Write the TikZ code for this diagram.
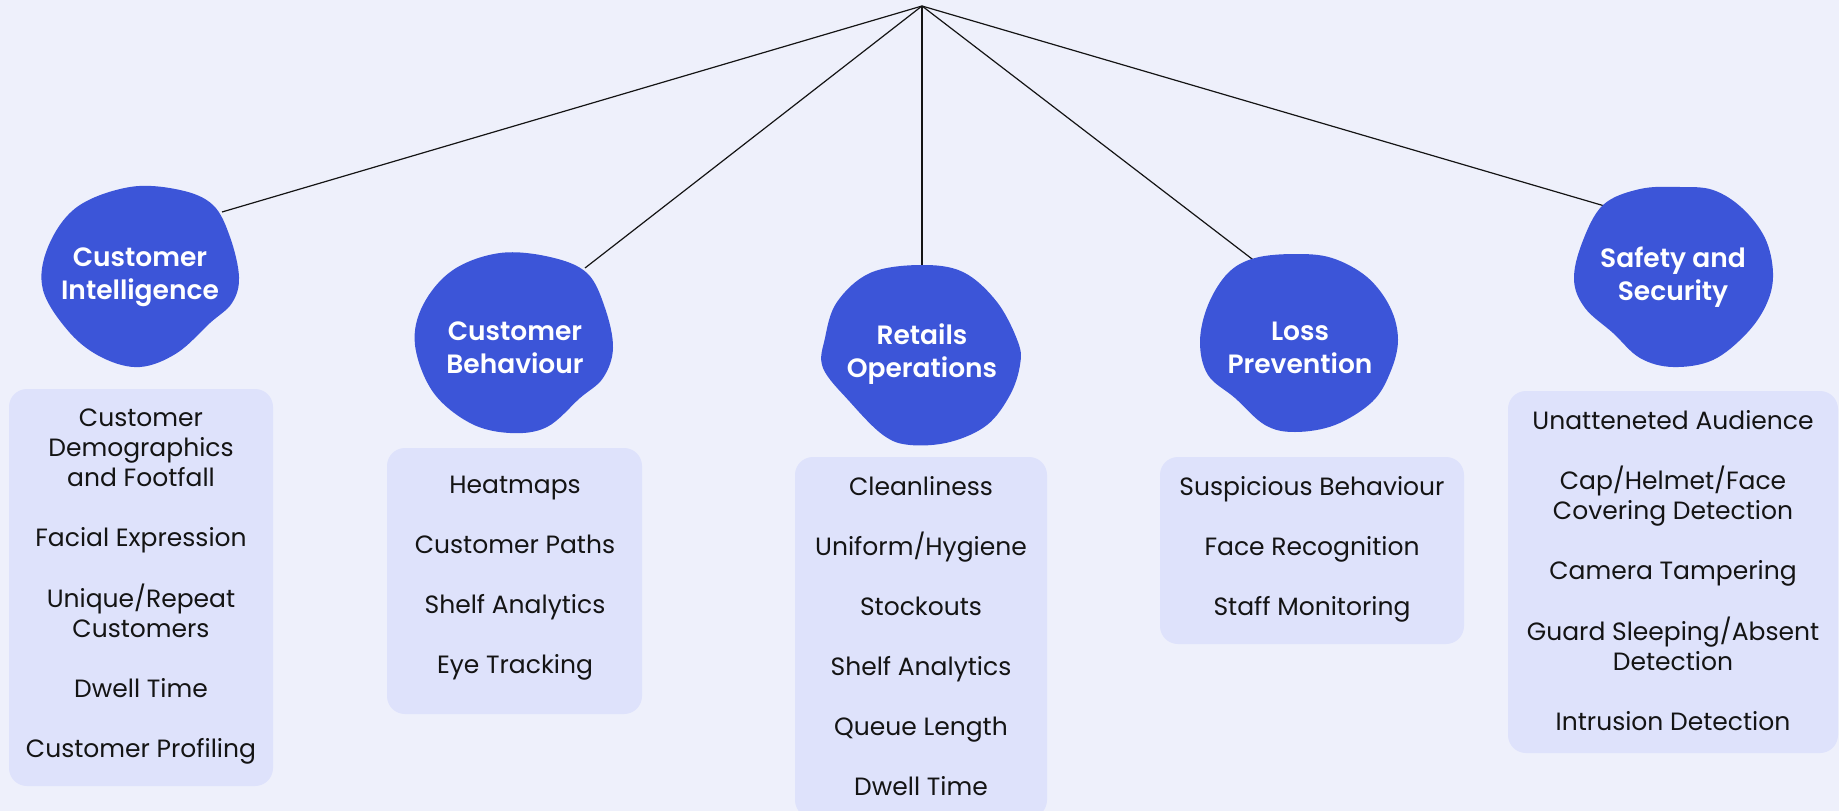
\documentclass[tikz,border=0pt]{standalone}
\usepackage{fontspec}
\setmainfont{Poppins}[BoldFont={Poppins SemiBold}]
\usetikzlibrary{positioning}
\definecolor{bg}{HTML}{EEF0FB}
\definecolor{blobblue}{HTML}{3C55D8}
\definecolor{listfill}{HTML}{DEE2FB}
\definecolor{ink}{HTML}{141414}

\begin{document}
\begin{tikzpicture}[x=1pt, y=-1pt,
  blob/.style={fill=blobblue},
  title/.style={text=white, font=\fontsize{26.5}{33}\selectfont\bfseries, align=center},
  listbox/.style={fill=listfill, rounded corners=18pt, inner sep=0pt},
  items/.style={text=ink, font=\fontsize{25}{30}\selectfont, align=center},
  link/.style={draw=ink, line width=1.2pt}]
\useasboundingbox (0,0) rectangle (1839,811);
\fill[bg] (0,0) rectangle (1839,811);
\coordinate (root) at (922,6);
\coordinate (ci edge) at (222,212);
\coordinate (cb edge) at (585,268);
\coordinate (ro edge) at (922,270);
\coordinate (lp edge) at (1256,262);
\coordinate (ss edge) at (1608,207);
\draw[link] (root) -- (ci edge);
\draw[link] (root) -- (cb edge);
\draw[link] (root) -- (ro edge);
\draw[link] (root) -- (lp edge);
\draw[link] (root) -- (ss edge);
\fill[blob] plot[smooth cycle, tension=0.6] coordinates {(130,187) (180,190) (213,205) (230,237) (239,277)
  (232,303) (210,323) (177,353) (140,367) (103,358) (70,333) (43,290) (48,247) (77,207)};
\fill[blob] plot[smooth cycle, tension=0.6] coordinates {(500,253) (550,257) (587,273) (605,308) (613,348)
  (603,378) (580,398) (547,427) (510,433) (470,423) (433,392) (415,345) (423,305) (453,270)};
\fill[blob] plot[smooth cycle, tension=0.6] coordinates {(920,265) (963,272) (997,302) (1018,342) (1020,365)
  (1010,395) (987,425) (950,442) (910,445) (883,435) (850,402) (823,368) (825,338) (837,302) (870,273)};
\fill[blob] plot[smooth cycle, tension=0.6] coordinates {(1295,254) (1332,258) (1367,277) (1390,307) (1398,340)
  (1390,373) (1372,402) (1335,425) (1295,432) (1265,425) (1235,398) (1208,375) (1200,342) (1208,305)
  (1228,273) (1255,258)};
\fill[blob] plot[smooth cycle, tension=0.6] coordinates {(1680,187) (1713,190) (1742,208) (1765,238) (1773,273)
  (1767,303) (1747,333) (1713,360) (1673,367) (1640,358) (1613,333) (1585,308) (1574,280) (1582,243)
  (1603,205) (1640,189)};
\node[title] (ci) at (140,277.5) {Customer\\Intelligence};
\node[title] (cb) at (515,347.5) {Customer\\Behaviour};
\node[title] (ro) at (922,354.5) {Retails\\Operations};
\node[title] (lp) at (1300,347.5) {Loss\\Prevention};
\node[title] (ss) at (1673,277.5) {Safety and\\Security};
\node[listbox, minimum width=264pt, minimum height=397pt] (ci box) at (141,587.5) {};
\node[listbox, minimum width=255pt, minimum height=266pt] (cb box) at (514.5,581) {};
\node[listbox, minimum width=252pt, minimum height=361pt] (ro box) at (921,637.5) {};
\node[listbox, minimum width=304pt, minimum height=187pt] (lp box) at (1312,550.5) {};
\node[listbox, minimum width=330pt, minimum height=362pt] (ss box) at (1673,572) {};
\node[items] (ci list) at (141,587) {Customer\\Demographics\\and Footfall\\[30pt]Facial Expression\\[30pt]Unique/Repeat\\Customers\\[30pt]Dwell Time\\[30pt]Customer Profiling};
\node[items] (cb list) at (515,578) {Heatmaps\\[30pt]Customer Paths\\[30pt]Shelf Analytics\\[30pt]Eye Tracking};
\node[items] (ro list) at (921,636.5) {Cleanliness\\[30pt]Uniform/Hygiene\\[30pt]Stockouts\\[30pt]Shelf Analytics\\[30pt]Queue Length\\[30pt]Dwell Time};
\node[items] (lp list) at (1312,549) {Suspicious Behaviour\\[30pt]Face Recognition\\[30pt]Staff Monitoring};
\node[items] (ss list) at (1673,570.5) {Unatteneted Audience\\[30pt]Cap/Helmet/Face\\Covering Detection\\[30pt]Camera Tampering\\[30pt]Guard Sleeping/Absent\\Detection\\[30pt]Intrusion Detection};
\end{tikzpicture}
\end{document}
